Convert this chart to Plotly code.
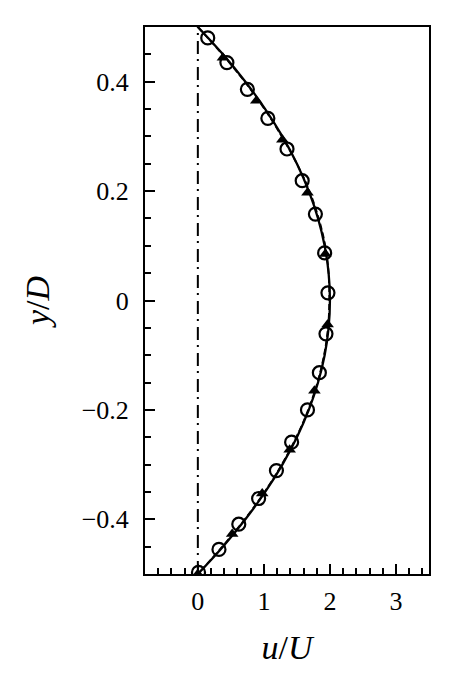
import plotly.graph_objects as go

# Continuous profiles (solid and dashed)
line_y = [0.5, 0.45, 0.4, 0.35, 0.3, 0.25, 0.2, 0.15, 0.1, 0.05, 0.0,
          -0.05, -0.1, -0.15, -0.2, -0.25, -0.3, -0.35, -0.4, -0.45, -0.5]
solid_u = [0.0, 0.38, 0.72, 1.02, 1.28, 1.5, 1.68, 1.82, 1.92, 1.98, 2.0,
           1.98, 1.92, 1.82, 1.68, 1.5, 1.28, 1.02, 0.72, 0.38, 0.0]
dashed_u = [0.0, 0.37, 0.71, 1.01, 1.27, 1.5, 1.69, 1.83, 1.93, 1.98, 1.99,
            1.97, 1.91, 1.81, 1.67, 1.49, 1.27, 1.01, 0.71, 0.37, 0.0]

# Open circle markers
circ_u = [0.15, 0.44, 0.75, 1.06, 1.35, 1.58, 1.78, 1.92, 1.97, 1.94, 1.84,
          1.66, 1.42, 1.19, 0.92, 0.62, 0.32, 0.01]
circ_y = [0.48, 0.435, 0.386, 0.333, 0.277, 0.219, 0.158, 0.087, 0.014, -0.061,
          -0.132, -0.2, -0.259, -0.311, -0.362, -0.409, -0.455, -0.497]

# Filled triangle markers
tri_u = [0.38, 0.885, 1.28, 1.66, 1.93, 1.965, 1.765, 1.39, 0.975, 0.52, 0.0]
tri_y = [0.444, 0.365, 0.294, 0.197, 0.085, -0.044, -0.165, -0.273, -0.353, -0.427, -0.5]

# Reference line at u/U = 0
ref_u = [0, 0]
ref_y = [-0.5, 0.5]

x_tickvals = [0, 1, 2, 3]
y_tickvals = [-0.4, -0.2, 0, 0.2, 0.4]
y_ticktext = ["\u22120.4", "\u22120.2", "0", "0.2", "0.4"]

FONT = "Liberation Serif"

fig = go.Figure()
fig.add_trace(go.Scatter(x=ref_u, y=ref_y, mode="lines",
                         line=dict(color="black", width=2, dash="13px,6px,2px,5px"),
                         showlegend=False, hoverinfo="skip"))
fig.add_trace(go.Scatter(x=dashed_u, y=line_y, mode="lines", line_shape="spline",
                         line=dict(color="black", width=1.8, dash="6px,3px"),
                         showlegend=False))
fig.add_trace(go.Scatter(x=solid_u, y=line_y, mode="lines", line_shape="spline",
                         line=dict(color="black", width=2.3),
                         showlegend=False))
fig.add_trace(go.Scatter(x=tri_u, y=tri_y, mode="markers",
                         marker=dict(symbol="triangle-up", size=11, color="black"),
                         showlegend=False))
fig.add_trace(go.Scatter(x=circ_u, y=circ_y, mode="markers",
                         marker=dict(symbol="circle-open", size=13, color="black",
                                     line=dict(width=2.2, color="black")),
                         showlegend=False))

fig.update_layout(
    width=450, height=692,
    margin=dict(l=137, r=29, t=19, b=126),
    paper_bgcolor="white", plot_bgcolor="white",
    font=dict(family=FONT, size=26, color="black"),
    showlegend=False,
)
fig.update_xaxes(
    range=[-0.8, 3.5], tickvals=x_tickvals, ticks="inside", ticklen=10, tickwidth=1.8,
    tickcolor="black", showline=True, linecolor="black", linewidth=2, mirror=True,
    showgrid=False, zeroline=False, ticklabelstandoff=3,
    minor=dict(dtick=0.2, tick0=0, ticks="inside", ticklen=6, tickwidth=1.8, tickcolor="black", showgrid=False),
    title=dict(text="<i>u</i>/<i>U</i>", font=dict(family=FONT, size=34), standoff=20),
    tickfont=dict(family=FONT, size=26),
)
fig.update_yaxes(
    range=[-0.5, 0.5], tickvals=y_tickvals, ticktext=y_ticktext, ticks="inside", ticklen=10,
    tickwidth=1.8, tickcolor="black", showline=True, linecolor="black", linewidth=2, mirror=True,
    showgrid=False, zeroline=False, ticklabelstandoff=9,
    minor=dict(dtick=0.05, tick0=0, ticks="inside", ticklen=6, tickwidth=1.8, tickcolor="black", showgrid=False),
    title=dict(text="<i>y</i>/<i>D</i>", font=dict(family=FONT, size=34), standoff=22),
    tickfont=dict(family=FONT, size=26),
)

fig.write_html("out.html")
